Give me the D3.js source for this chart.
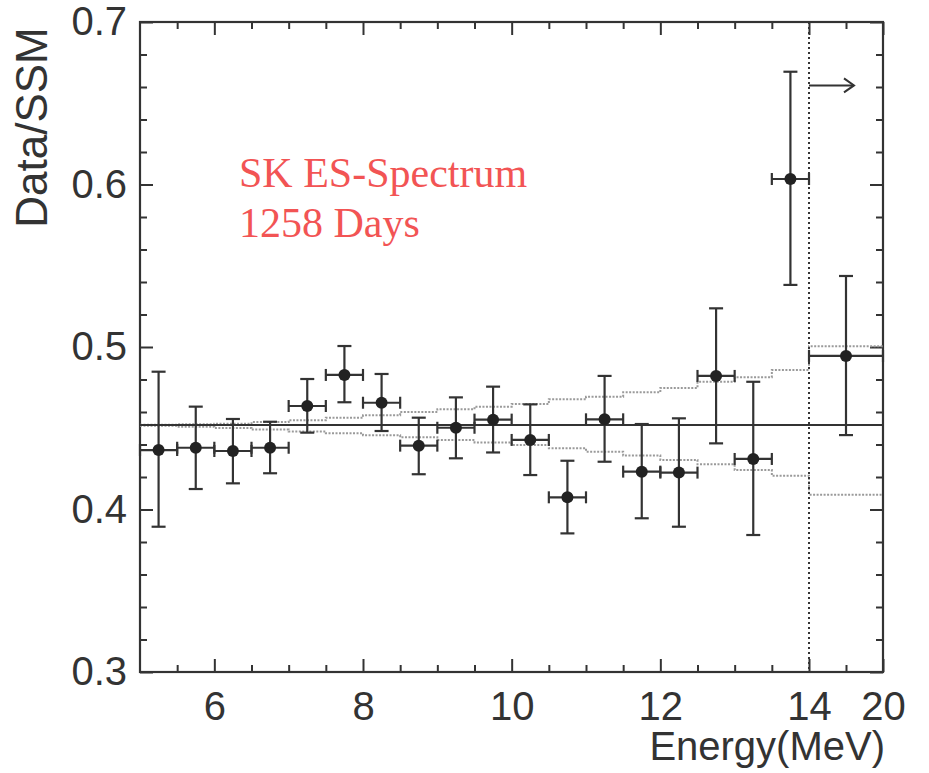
<!DOCTYPE html>
<html>
<head>
<meta charset="utf-8">
<script src="https://cdn.jsdelivr.net/npm/d3@7"></script>
<style>
  html, body { margin: 0; padding: 0; background: #fff; }
  svg { display: block; }
</style>
</head>
<body>
<svg id="chart" width="929" height="773"></svg>
<script>
// ---- data ----
const binCenters = [5.25, 5.75, 6.25, 6.75, 7.25, 7.75, 8.25, 8.75, 9.25, 9.75,
                    10.25, 10.75, 11.25, 11.75, 12.25, 12.75, 13.25, 13.75, 17];
const binLow  = [5.0, 5.5, 6.0, 6.5, 7.0, 7.5, 8.0, 8.5, 9.0, 9.5,
                 10.0, 10.5, 11.0, 11.5, 12.0, 12.5, 13.0, 13.5, 14];
const binHigh = [5.5, 6.0, 6.5, 7.0, 7.5, 8.0, 8.5, 9.0, 9.5, 10.0,
                 10.5, 11.0, 11.5, 12.0, 12.5, 13.0, 13.5, 14.0, 20];
const ratio   = [0.4366, 0.438, 0.436, 0.438, 0.4637, 0.4828, 0.4657, 0.4393, 0.4503, 0.4553,
                 0.4428, 0.4075, 0.4555, 0.4233, 0.4227, 0.4822, 0.4311, 0.6034, 0.4945];
const errTop  = [0.4848, 0.4633, 0.4557, 0.454, 0.4803, 0.5006, 0.4834, 0.4565, 0.469, 0.4756,
                 0.4647, 0.43, 0.4822, 0.4526, 0.4561, 0.5238, 0.4786, 0.6694, 0.5437];
const errBottom = [0.3894, 0.4126, 0.4161, 0.4223, 0.4473, 0.466, 0.4483, 0.4217, 0.4315, 0.4351,
                   0.4212, 0.3853, 0.4294, 0.3946, 0.3894, 0.4407, 0.3843, 0.5382, 0.4458];
const bandUpper = [0.4522, 0.4524, 0.4528, 0.4538, 0.4550, 0.4565, 0.4580, 0.4600, 0.4617, 0.4633,
                   0.4649, 0.4678, 0.4694, 0.4721, 0.4748, 0.4786, 0.4814, 0.4858, 0.5004];
const bandLower = [0.4515, 0.4510, 0.4502, 0.4492, 0.4480, 0.4469, 0.4457, 0.4444, 0.4428, 0.4413,
                   0.4397, 0.4377, 0.4356, 0.4333, 0.4305, 0.4278, 0.4243, 0.4208, 0.4091];
const meanRatio = 0.452;
const thresholdE = 14;
const arrowLevel = 0.661;
const xMajorTicks = [6, 8, 10, 12, 14, 20];
const xMinorTicks = [5.5, 6.5, 7, 7.5, 8.5, 9, 9.5, 10.5, 11, 11.5, 12.5, 13, 13.5, 17];
const yMajorTicks = [0.3, 0.4, 0.5, 0.6, 0.7];
const yMinorTicks = [0.32,0.34,0.36,0.38,0.42,0.44,0.46,0.48,0.52,0.54,0.56,0.58,0.62,0.64,0.66,0.68];
const titleLines = ["SK ES-Spectrum", "1258 Days"];

// ---- layout ----
const L = 140, R = 883, T = 22, B = 672;
const ink = "#333";
const svg = d3.select("#chart");

const x = d3.scaleLinear().domain([5, 14, 20]).range([L, 809, R]);
const y = d3.scaleLinear().domain([0.3, 0.7]).range([B, T]);

const axisFont = "'Liberation Sans', Arial, Helvetica, sans-serif";

function styleAxis(g) {
  g.select(".domain").remove();
  g.selectAll("line").attr("stroke", ink).attr("stroke-width", 2);
  g.selectAll("text").attr("fill", ink).style("font-family", axisFont).style("font-size", "40px");
}

// bottom axis
svg.append("g").attr("transform", `translate(0,${B})`)
  .call(d3.axisBottom(x).tickValues(xMajorTicks).tickSize(-13).tickPadding(20).tickFormat(d3.format("d")))
  .call(styleAxis);
svg.append("g").attr("transform", `translate(0,${B})`)
  .call(d3.axisBottom(x).tickValues(xMinorTicks).tickSize(-7).tickFormat(""))
  .call(styleAxis);
// top axis
svg.append("g").attr("transform", `translate(0,${T})`)
  .call(d3.axisTop(x).tickValues(xMajorTicks).tickSize(-13).tickFormat(""))
  .call(styleAxis);
svg.append("g").attr("transform", `translate(0,${T})`)
  .call(d3.axisTop(x).tickValues(xMinorTicks).tickSize(-7).tickFormat(""))
  .call(styleAxis);
// left axis
svg.append("g").attr("transform", `translate(${L},0)`)
  .call(d3.axisLeft(y).tickValues(yMajorTicks).tickSize(-13).tickPadding(13).tickFormat(d3.format(".1f")))
  .call(styleAxis);
svg.append("g").attr("transform", `translate(${L},0)`)
  .call(d3.axisLeft(y).tickValues(yMinorTicks).tickSize(-7).tickFormat(""))
  .call(styleAxis);
// right axis
svg.append("g").attr("transform", `translate(${R},0)`)
  .call(d3.axisRight(y).tickValues(yMajorTicks).tickSize(-13).tickFormat(""))
  .call(styleAxis);
svg.append("g").attr("transform", `translate(${R},0)`)
  .call(d3.axisRight(y).tickValues(yMinorTicks).tickSize(-7).tickFormat(""))
  .call(styleAxis);

// frame
svg.append("rect").attr("x", L).attr("y", T).attr("width", R - L).attr("height", B - T)
  .attr("fill", "none").attr("stroke", ink).attr("stroke-width", 2.2);

// axis titles
svg.append("text")
  .attr("transform", `translate(47,${(25 + 230) / 2}) rotate(-90)`)
  .attr("text-anchor", "middle")
  .attr("fill", ink)
  .style("font-family", axisFont).style("font-size", "44px")
  .text("Data/SSM");
svg.append("text")
  .attr("x", R + 2).attr("y", 760)
  .attr("text-anchor", "end")
  .attr("fill", ink)
  .style("font-family", axisFont).style("font-size", "40px")
  .text("Energy(MeV)");

// dotted bands (step lines)
function bandLine(vals) {
  const pts = binLow.map((e, i) => [e, vals[i]]);
  pts.push([binHigh[binHigh.length - 1], vals[vals.length - 1]]);
  return d3.line().x(d => x(d[0])).y(d => y(d[1])).curve(d3.curveStepAfter)(pts);
}
[bandUpper, bandLower].forEach(vals => {
  svg.append("path").attr("d", bandLine(vals))
    .attr("fill", "none").attr("stroke", "#9a9a9a").attr("stroke-width", 2)
    .attr("stroke-dasharray", "2,1.5");
});

// mean line
svg.append("line")
  .attr("x1", x(5)).attr("x2", x(20)).attr("y1", y(meanRatio)).attr("y2", y(meanRatio))
  .attr("stroke", ink).attr("stroke-width", 2);

// threshold dotted vertical line
svg.append("line")
  .attr("x1", x(thresholdE)).attr("x2", x(thresholdE)).attr("y1", T).attr("y2", B)
  .attr("stroke", ink).attr("stroke-width", 2).attr("stroke-dasharray", "2,3");

// arrow
const arrowY = y(arrowLevel);
const ax0 = x(thresholdE), ax1 = x(thresholdE) + 45;
svg.append("line").attr("x1", ax0).attr("x2", ax1).attr("y1", arrowY).attr("y2", arrowY)
  .attr("stroke", ink).attr("stroke-width", 2);
svg.append("path")
  .attr("d", `M${ax1 - 10},${arrowY - 7} L${ax1},${arrowY} L${ax1 - 10},${arrowY + 7}`)
  .attr("fill", "none").attr("stroke", ink).attr("stroke-width", 2);

// error bars + points
const g = svg.append("g").attr("stroke", ink).attr("stroke-width", 2.2);
binCenters.forEach((c, i) => {
  const cx = x(c), cy = y(ratio[i]);
  // vertical error bar
  g.append("line").attr("x1", cx).attr("x2", cx).attr("y1", y(errTop[i])).attr("y2", y(errBottom[i]));
  g.append("line").attr("x1", cx - 7).attr("x2", cx + 7).attr("y1", y(errTop[i])).attr("y2", y(errTop[i]));
  g.append("line").attr("x1", cx - 7).attr("x2", cx + 7).attr("y1", y(errBottom[i])).attr("y2", y(errBottom[i]));
  // horizontal bin bar
  const xl = x(binLow[i]), xr = x(binHigh[i]);
  g.append("line").attr("x1", xl).attr("x2", xr).attr("y1", cy).attr("y2", cy);
  g.append("line").attr("x1", xl).attr("x2", xl).attr("y1", cy - 6).attr("y2", cy + 6);
  g.append("line").attr("x1", xr).attr("x2", xr).attr("y1", cy - 6).attr("y2", cy + 6);
});
svg.append("g").selectAll("circle").data(binCenters).join("circle")
  .attr("cx", d => x(d)).attr("cy", (d, i) => y(ratio[i])).attr("r", 6)
  .attr("fill", "#222");

// red annotation
const ann = svg.append("text")
  .attr("fill", "#f25454")
  .style("font-family", "'Liberation Serif', 'Times New Roman', serif")
  .style("font-size", "42px");
titleLines.forEach((t, i) => {
  ann.append("tspan").attr("x", 239).attr("y", 187 + i * 50).text(t);
});
</script>
</body>
</html>
